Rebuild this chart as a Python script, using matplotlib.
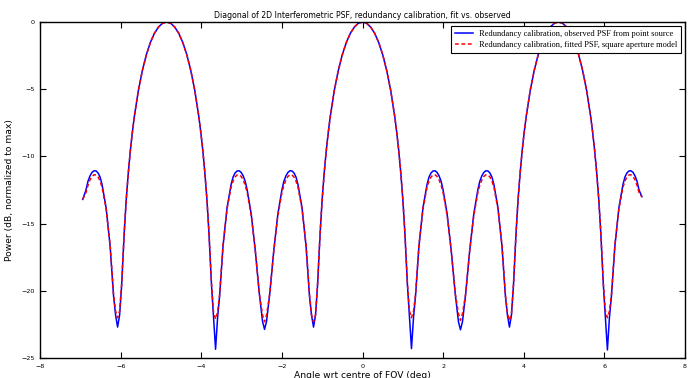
import matplotlib
matplotlib.use('Agg')
import matplotlib.pyplot as plt

# angle along the diagonal (deg): left edge, lobe at -4.86 -> 0, lobe 0 -> 4.86, right edge
angle = [
    -6.94, -6.86, -6.81, -6.76, -6.71, -6.66, -6.61, -6.56, -6.51, -6.46, -6.36, -6.26,
    -6.175, -6.125, -6.075, -6.025, -5.975, -5.91, -5.86, -5.81, -5.76, -5.71, -5.66,
    -5.56, -5.46, -5.36, -5.26, -5.16, -5.06, -4.96,

    -4.86, -4.76, -4.66, -4.56, -4.46, -4.36, -4.26, -4.16, -4.06, -4.01, -3.96, -3.91,
    -3.86, -3.81, -3.745, -3.695, -3.645, -3.595, -3.545, -3.46, -3.36, -3.26, -3.21,
    -3.16, -3.11, -3.06, -3.01, -2.96, -2.91, -2.86, -2.76, -2.66, -2.56, -2.48, -2.43,
    -2.38, -2.3, -2.2, -2.1, -2.0, -1.95, -1.9, -1.85, -1.8, -1.75, -1.7, -1.65, -1.6,
    -1.5, -1.4, -1.315, -1.265, -1.215, -1.165, -1.115, -1.05, -1.0, -0.95, -0.9, -0.85,
    -0.8, -0.7, -0.6, -0.5, -0.4, -0.3, -0.2, -0.1,

    0.0, 0.1, 0.2, 0.3, 0.4, 0.5, 0.6, 0.7, 0.8, 0.85, 0.9, 0.95, 1.0, 1.05, 1.115,
    1.165, 1.215, 1.265, 1.315, 1.4, 1.5, 1.6, 1.65, 1.7, 1.75, 1.8, 1.85, 1.9, 1.95,
    2.0, 2.1, 2.2, 2.3, 2.38, 2.43, 2.48, 2.56, 2.66, 2.76, 2.86, 2.91, 2.96, 3.01, 3.06,
    3.11, 3.16, 3.21, 3.26, 3.36, 3.46, 3.545, 3.595, 3.645, 3.695, 3.745, 3.81, 3.86,
    3.91, 3.96, 4.01, 4.06, 4.16, 4.26, 4.36, 4.46, 4.56, 4.66, 4.76,

    4.86, 4.96, 5.06, 5.16, 5.26, 5.36, 5.46, 5.56, 5.66, 5.71, 5.76, 5.81, 5.86, 5.91,
    5.975, 6.025, 6.075, 6.125, 6.175, 6.26, 6.36, 6.46, 6.51, 6.56, 6.61, 6.66, 6.71,
    6.76, 6.81, 6.86, 6.93,
]

# observed PSF from point source (dB)
observed = [
    -13.2, -12.5, -11.85, -11.45, -11.19, -11.07, -11.08, -11.23, -11.53, -12.1, -13.82, -16.69,
    -20.4, -21.8, -22.7, -21.8, -19.6, -15.64, -13.17, -11.24, -9.60, -8.23, -7.04,
    -5.10, -3.60, -2.42, -1.51, -0.83, -0.37, -0.09,

    0.0, -0.09, -0.37, -0.83, -1.51, -2.42, -3.60, -5.10, -7.04, -8.23, -9.60, -11.24,
    -13.17, -15.64, -19.6, -22.0, -24.35, -22.0, -20.4, -16.69, -13.82, -12.1, -11.53,
    -11.23, -11.08, -11.07, -11.19, -11.45, -11.85, -12.5, -14.30, -16.98, -20.2, -22.27, -22.87,
    -22.27, -20.2, -16.98, -14.30, -12.5, -11.85, -11.45, -11.19, -11.07, -11.08, -11.23, -11.53, -12.1,
    -13.82, -16.69, -20.4, -21.8, -22.7, -21.8, -19.6, -15.64, -13.17, -11.24, -9.60, -8.23,
    -7.04, -5.10, -3.60, -2.42, -1.51, -0.83, -0.37, -0.09,

    0.0, -0.09, -0.37, -0.83, -1.51, -2.42, -3.60, -5.10, -7.04, -8.23, -9.60, -11.24, -13.17, -15.64, -19.6,
    -22.0, -24.3, -22.0, -20.4, -16.69, -13.82, -12.1, -11.53, -11.23, -11.08, -11.07, -11.19, -11.45, -11.85,
    -12.5, -14.30, -16.98, -20.2, -22.3, -22.9, -22.3, -20.2, -16.98, -14.30, -12.5, -11.85, -11.45, -11.19, -11.07,
    -11.08, -11.23, -11.53, -12.1, -13.82, -16.69, -20.4, -21.8, -22.7, -21.8, -19.6, -15.64, -13.17,
    -11.24, -9.60, -8.23, -7.04, -5.10, -3.60, -2.42, -1.51, -0.83, -0.37, -0.09,

    0.0, -0.09, -0.37, -0.83, -1.51, -2.42, -3.60, -5.10, -7.04, -8.23, -9.60, -11.24, -13.17, -15.64,
    -19.6, -22.0, -24.4, -22.0, -20.4, -16.69, -13.82, -12.1, -11.53, -11.23, -11.08, -11.07, -11.19,
    -11.45, -11.85, -12.5, -13.0,
]

# fitted PSF, square aperture model (dB)
fitted = [
    -13.2, -12.7, -12.15, -11.75, -11.49, -11.37, -11.38, -11.53, -11.83, -12.3, -13.9, -16.6,
    -20.3, -21.5, -22.0, -21.5, -19.5, -15.6, -13.17, -11.24, -9.60, -8.23, -7.04,
    -5.10, -3.60, -2.42, -1.51, -0.83, -0.37, -0.09,

    0.0, -0.09, -0.37, -0.83, -1.51, -2.42, -3.60, -5.10, -7.04, -8.23, -9.60, -11.24,
    -13.17, -15.6, -19.5, -21.6, -22.1, -21.6, -20.3, -16.6, -13.9, -12.3, -11.83,
    -11.53, -11.38, -11.37, -11.49, -11.75, -12.15, -12.7, -14.4, -17.0, -20.2, -21.8, -22.3,
    -21.8, -20.2, -17.0, -14.4, -12.7, -12.15, -11.75, -11.49, -11.37, -11.38, -11.53, -11.83, -12.3,
    -13.9, -16.6, -20.3, -21.8, -22.3, -21.8, -19.5, -15.6, -13.17, -11.24, -9.60, -8.23,
    -7.04, -5.10, -3.60, -2.42, -1.51, -0.83, -0.37, -0.09,

    0.0, -0.09, -0.37, -0.83, -1.51, -2.42, -3.60, -5.10, -7.04, -8.23, -9.60, -11.24, -13.17, -15.6, -19.5,
    -21.5, -22.0, -21.5, -20.3, -16.6, -13.9, -12.3, -11.83, -11.53, -11.38, -11.37, -11.49, -11.75, -12.15,
    -12.7, -14.4, -17.0, -20.2, -21.7, -22.2, -21.7, -20.2, -17.0, -14.4, -12.7, -12.15, -11.75, -11.49, -11.37,
    -11.38, -11.53, -11.83, -12.3, -13.9, -16.6, -20.3, -21.7, -22.2, -21.7, -19.5, -15.6, -13.17,
    -11.24, -9.60, -8.23, -7.04, -5.10, -3.60, -2.42, -1.51, -0.83, -0.37, -0.09,

    0.0, -0.09, -0.37, -0.83, -1.51, -2.42, -3.60, -5.10, -7.04, -8.23, -9.60, -11.24, -13.17, -15.6,
    -19.5, -21.5, -22.0, -21.5, -20.3, -16.6, -13.9, -12.3, -11.83, -11.53, -11.38, -11.37, -11.49,
    -11.75, -12.15, -12.7, -13.0,
]

xticks = [-8, -6, -4, -2, 0, 2, 4, 6, 8]
yticks = [-25, -20, -15, -10, -5, 0]

assert len(angle) == len(observed) == len(fitted)

fig = plt.figure(figsize=(6.92, 3.78), dpi=100)
ax = fig.add_axes([0.0578, 0.0529, 0.9321, 0.8889])

ax.plot(angle, observed, color='#0000ff', linewidth=1.1,
        label='Redundancy calibration, observed PSF from point source')
ax.plot(angle, fitted, color='#ff0000', linewidth=1.1, linestyle='--', dashes=(2.5, 1.7),
        label='Redundancy calibration, fitted PSF, square aperture model')

ax.set_xlim(-8, 8)
ax.set_ylim(-25, 0)
ax.set_xticks(xticks)
ax.set_yticks(yticks)
ax.tick_params(direction='in', top=True, right=True, length=4, width=0.8,
               labelsize=4.6, pad=4)
for sp in ax.spines.values():
    sp.set_linewidth(1.0)

ax.set_title('Diagonal of 2D Interferometric PSF, redundancy calibration, fit vs. observed',
             fontsize=5.6, pad=3)
ax.set_xlabel('Angle wrt centre of FOV (deg)', fontsize=6.6, labelpad=1.5)
ax.set_ylabel('Power (dB, normalized to max)', fontsize=6.6, labelpad=5)

leg = ax.legend(loc='upper right', prop={'family': 'Liberation Serif', 'size': 6.0},
                fancybox=False, framealpha=1, edgecolor='black',
                borderaxespad=0.5, handlelength=2.2, handletextpad=0.7,
                borderpad=0.45, labelspacing=0.4)
leg.get_frame().set_linewidth(0.8)

fig.savefig('out.png', dpi=100)
